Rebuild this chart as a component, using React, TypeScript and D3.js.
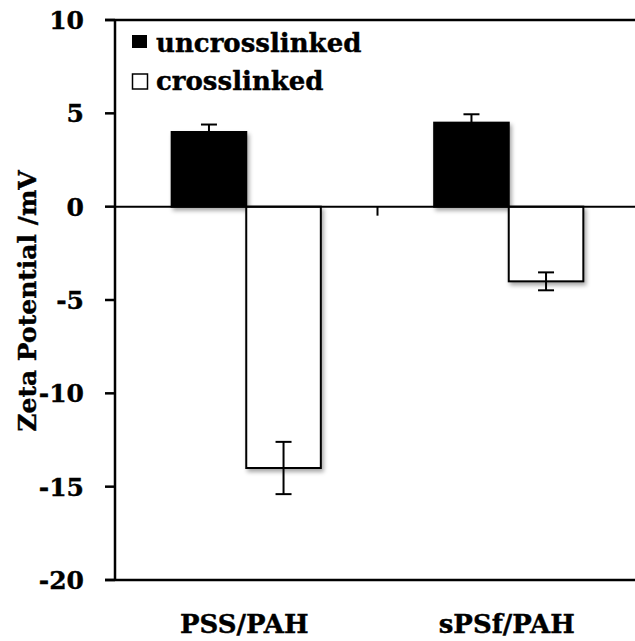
import React, { useEffect } from 'react';
import * as d3 from 'd3';

// data
const categories = ['PSS/PAH', 'sPSf/PAH'];
const seriesNames = ['uncrosslinked', 'crosslinked'];
const uncrosslinked = [4.0, 4.5];
const crosslinked = [-14.0, -4.0];
const uncrosslinkedErr = [0.4, 0.45];
const crosslinkedErr = [1.4, 0.48];
const yTicks = [10, 5, 0, -5, -10, -15, -20];

const width = 635;
const height = 641;
const margins = { top: 20, left: 115, bottom: 61, right: -5 };
const fontFamily = '"DejaVu Serif", serif';
const heavy = { fontFamily, fontWeight: 'bold' as const, stroke: '#000', strokeWidth: 0.4 };

const App = () => {
    useEffect(() => { document.body.style.margin = '0'; }, []);

    const yScale = d3.scaleLinear()
        .domain([-20, 10])
        .range([height - margins.bottom, margins.top]);

    const xScale = d3.scaleBand<string>()
        .domain(categories)
        .range([margins.left, width - margins.right]);

    const inner = d3.scaleBand<string>()
        .domain(seriesNames)
        .range([0, xScale.bandwidth()])
        .paddingOuter(0.76);

    const series = [
        { name: seriesNames[0], values: uncrosslinked, errs: uncrosslinkedErr, fill: '#000' },
        { name: seriesNames[1], values: crosslinked, errs: crosslinkedErr, fill: '#fff' },
    ];

    const y0 = yScale(0);
    const capW = 16;

    return (
        <svg width={width} height={height} style={{ display: 'block' }}>
            <defs>
                <filter id="shadow" x="-20%" y="-20%" width="140%" height="140%">
                    <feDropShadow dx="2" dy="3" stdDeviation="2" floodColor="#000" floodOpacity="0.35" />
                </filter>
            </defs>
            <rect width={width} height={height} fill="#fff" />

            {/* bars */}
            {series.map(s => (
                <g key={s.name}>
                    {categories.map((c, i) => {
                        const x = (xScale(c) || 0) + (inner(s.name) || 0);
                        const v = s.values[i];
                        const yTop = yScale(Math.max(0, v));
                        const h = Math.abs(yScale(v) - y0);
                        return (
                            <rect key={c} x={x} y={yTop} width={inner.bandwidth()} height={h}
                                fill={s.fill} stroke="#000" strokeWidth={2} filter="url(#shadow)" />
                        );
                    })}
                </g>
            ))}

            {/* error bars */}
            {series.map(s => (
                <g key={s.name + 'err'} stroke="#000" strokeWidth={2}>
                    {categories.map((c, i) => {
                        const cx = (xScale(c) || 0) + (inner(s.name) || 0) + inner.bandwidth() / 2;
                        const hi = yScale(s.values[i] + s.errs[i]);
                        const lo = yScale(s.values[i] - s.errs[i]);
                        return (
                            <g key={c}>
                                <line x1={cx} x2={cx} y1={hi} y2={lo} />
                                <line x1={cx - capW / 2} x2={cx + capW / 2} y1={hi} y2={hi} />
                                <line x1={cx - capW / 2} x2={cx + capW / 2} y1={lo} y2={lo} />
                            </g>
                        );
                    })}
                </g>
            ))}

            {/* frame lines */}
            <g stroke="#000" strokeWidth={2.5}>
                <line x1={margins.left - 10} x2={width} y1={yScale(10)} y2={yScale(10)} />
                <line x1={margins.left - 10} x2={width} y1={yScale(-20)} y2={yScale(-20)} />
                <line x1={margins.left} x2={margins.left} y1={yScale(10)} y2={yScale(-20)} />
            </g>
            <line x1={margins.left} x2={width} y1={y0} y2={y0} stroke="#000" strokeWidth={2} />

            {/* category separators on zero line */}
            {categories.slice(1).map(c => (
                <line key={c} x1={xScale(c)} x2={xScale(c)} y1={y0} y2={y0 + 9} stroke="#000" strokeWidth={2} />
            ))}

            {/* y ticks */}
            {yTicks.map(t => (
                <g key={t}>
                    <line x1={margins.left - 10} x2={margins.left} y1={yScale(t)} y2={yScale(t)} stroke="#000" strokeWidth={2.5} />
                    <text x={84} y={yScale(t)} dy="0.36em" textAnchor="end" {...heavy} fontSize={25}>{t}</text>
                </g>
            ))}

            {/* category labels */}
            {categories.map(c => (
                <text key={c} x={(xScale(c) || 0) + xScale.bandwidth() / 2 - 2} y={633} textAnchor="middle"
                    {...heavy} fontSize={26}>{c}</text>
            ))}

            {/* y label */}
            <text transform={`translate(36,301)rotate(-90)`} textAnchor="middle" {...heavy} fontSize={25}>Zeta Potential /mV</text>

            {/* legend */}
            <rect x={132} y={35} width={15} height={13} fill="#000" />
            <text x={156} y={52} {...heavy} fontSize={26}>{seriesNames[0]}</text>
            <rect x={132.5} y={74} width={15} height={15} fill="#fff" stroke="#000" strokeWidth={1.5} />
            <text x={156} y={90} {...heavy} fontSize={26}>{seriesNames[1]}</text>
        </svg>
    );
};

export default App;
